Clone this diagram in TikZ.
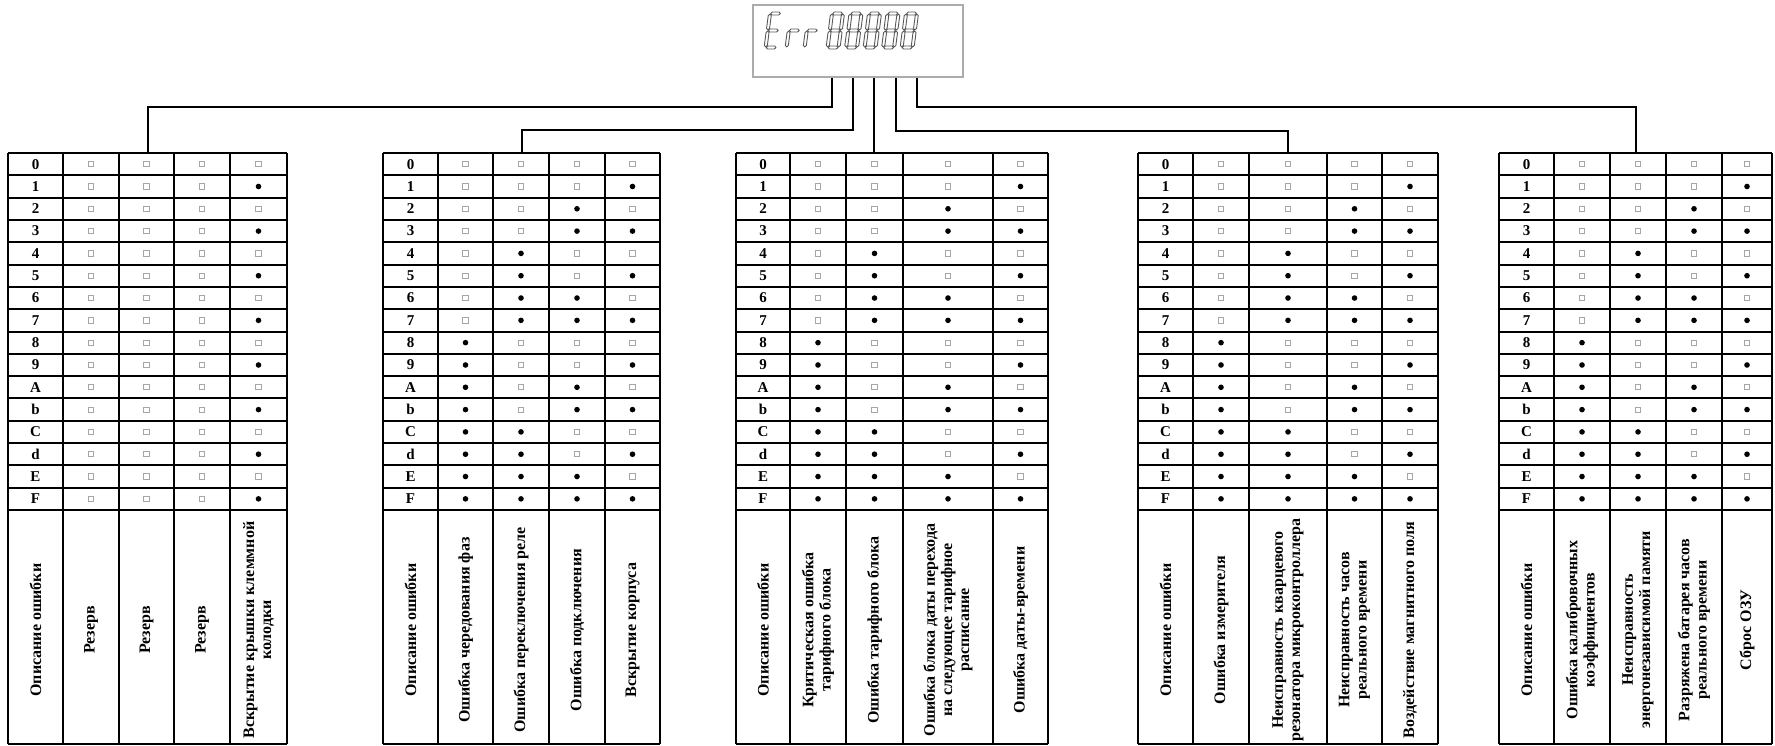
\documentclass[tikz,border=0pt]{standalone}
\usepackage{fontspec}
\setmainfont{Liberation Serif}

% one segment of the lcd digits
\newcommand{\segH}[3]{\draw[seg] (#1,#3) -- ++(1.5,-1.5) -- (#2-1.5,#3-1.5) -- (#2,#3) -- (#2-1.5,#3+1.5) -- (#1+1.5,#3+1.5) -- cycle;}
\newcommand{\segV}[3]{\draw[seg] (#1,#2) -- ++(1.5,1.5) -- (#1+1.5,#3-1.5) -- (#1,#3) -- (#1-1.5,#3-1.5) -- (#1-1.5,#2+1.5) -- cycle;}
\newcommand{\sgA}{\segH{0.6}{10.4}{0}}
\newcommand{\sgB}{\segV{11}{0.6}{16.4}}
\newcommand{\sgC}{\segV{11}{17.6}{33.4}}
\newcommand{\sgD}{\segH{0.6}{10.4}{34}}
\newcommand{\sgE}{\segV{0}{17.6}{33.4}}
\newcommand{\sgF}{\segV{0}{0.6}{16.4}}
\newcommand{\sgG}{\segH{0.6}{10.4}{17}}
\newcommand{\lcd}[3]{\begin{scope}[shift={(#1,#2)}, xslant=0.13] #3 \end{scope}}

% column edge number i of the current table
\newcommand{\edge}[1]{\csname tedge#1\endcsname}

% table of codes 0..F: name, column edges, reserved columns, headers
\newcommand{\errtable}[4]{%
  \foreach \x [count=\i from 0] in {#2} {\expandafter\xdef\csname tedge\i\endcsname{\x}}%
  \coordinate (#1) at ({(\edge{0}+\edge{5})/2},153);
  \foreach \k in {0,...,15}
    \draw[hline] (\edge{0},{153+\k*22.3125}) -- (\edge{5},{153+\k*22.3125});
  \draw[vline] (\edge{0},510) -- (\edge{5},510) (\edge{0},744) -- (\edge{5},744);
  \foreach \c in {0,...,5}
    \draw[vline] (\edge{\c},153) -- (\edge{\c},744);
  \foreach \r/\lab in {0/0,1/1,2/2,3/3,4/4,5/5,6/6,7/7,8/8,9/9,10/A,11/b,12/C,13/d,14/E,15/F}
    \node[code] (#1-\r) at ({(\edge{0}+\edge{1})/2},{153+(\r+.5)*22.3125}) {\lab};
  \foreach \r in {0,...,15}
    \foreach \c in {1,...,4} {
      \pgfmathtruncatemacro{\cn}{\c+1}
      \pgfmathsetmacro{\xc}{(\edge{\c}+\edge{\cn})/2}
      \pgfmathtruncatemacro{\bit}{mod(floor(\r/2^(4-\c)),2)*(\c>#3)}
      \ifnum\bit=1
        \node[biton] (#1-\r-\c) at (\xc,{153+(\r+.5)*22.3125}) {};
      \else
        \node[bitoff] (#1-\r-\c) at (\xc,{153+(\r+.5)*22.3125}) {};
      \fi
    }
  \foreach \c/\txt in {#4} {
    \pgfmathtruncatemacro{\cn}{\c+1}
    \pgfmathsetmacro{\xc}{(\edge{\c}+\edge{\cn})/2}
    \node[head] (#1-h\c) at (\xc,630) {\txt};
  }
}

\begin{document}
\begin{tikzpicture}[x=0.5pt, y=-0.5pt,
wire/.style={draw, line width=1pt},
hline/.style={line width=1pt},
vline/.style={line width=1.3pt},
lcdbox/.style={draw=gray!65, line width=0.8pt, fill=white, minimum width=105pt, minimum height=36pt, inner sep=0pt},
seg/.style={draw=black!65, line width=0.45pt, line join=round},
bitoff/.style={draw=gray!70, line width=0.45pt, fill=white, minimum size=2.6pt, inner sep=0pt},
biton/.style={circle, fill=black, minimum size=2.8pt, inner sep=0pt},
code/.style={font=\bfseries\fontsize{7.5}{9}\selectfont, inner sep=0pt},
head/.style={rotate=90, align=center, font=\bfseries\fontsize{8}{8.6}\selectfont, inner sep=0pt}]

\useasboundingbox (0,0) rectangle (1775,745);

\node[lcdbox] (disp) at (858,41) {};
\lcd{770}{13.5}{\sgA\sgD\sgE\sgF\sgG}
\lcd{791}{13.5}{\sgE\sgG}
\lcd{809}{13.5}{\sgE\sgG}
\foreach \k in {0,...,4} {
  \lcd{832+\k*18.5}{13.5}{\sgA\sgB\sgC\sgD\sgE\sgF\sgG}
}

\coordinate (d1) at ([xshift=-13pt]disp.south);
\coordinate (d2) at ([xshift=-2.5pt]disp.south);
\coordinate (d3) at ([xshift=8pt]disp.south);
\coordinate (d4) at ([xshift=19pt]disp.south);
\coordinate (d5) at ([xshift=29.5pt]disp.south);

\errtable{T1}{8,63,119,174,230,287}{3}{0/Описание ошибки, 1/Резерв, 2/Резерв, 3/Резерв,
  4/Вскрытие крышки клеммной\\колодки}
\errtable{T2}{383,438,493,549,605,660}{0}{0/Описание ошибки, 1/Ошибка чередования фаз,
  2/Ошибка переключения реле, 3/Ошибка подключения, 4/Вскрытие корпуса}
\errtable{T3}{736,790,846,903,993,1048}{0}{0/Описание ошибки, 1/Критическая ошибка\\тарифного блока,
  2/Ошибка тарифного блока, 3/Ошибка блока даты перехода\\на следующее тарифное\\расписание,
  4/Ошибка даты-времени}
\errtable{T4}{1138,1193,1249,1327,1382,1438}{0}{0/Описание ошибки, 1/Ошибка измерителя,
  2/Неисправность кварцевого\\резонатора микроконтроллера, 3/Неисправность часов\\реального времени,
  4/Воздействие магнитного поля}
\errtable{T5}{1499,1554,1610,1666,1722,1772}{0}{0/Описание ошибки, 1/Ошибка калибровочных\\коэффициентов,
  2/Неисправность\\энергонезависимой памяти, 3/Разряжена батарея часов\\реального времени,
  4/Сброс ОЗУ}

\draw[wire] (d1) -- ++(0,29) -| (T1);
\draw[wire] (d2) -- ++(0,52) -| (T2);
\draw[wire] (d3) -- (d3 |- T3);
\draw[wire] (d4) -- ++(0,53) -| (T4);
\draw[wire] (d5) -- ++(0,29) -| (T5);

\end{tikzpicture}
\end{document}
